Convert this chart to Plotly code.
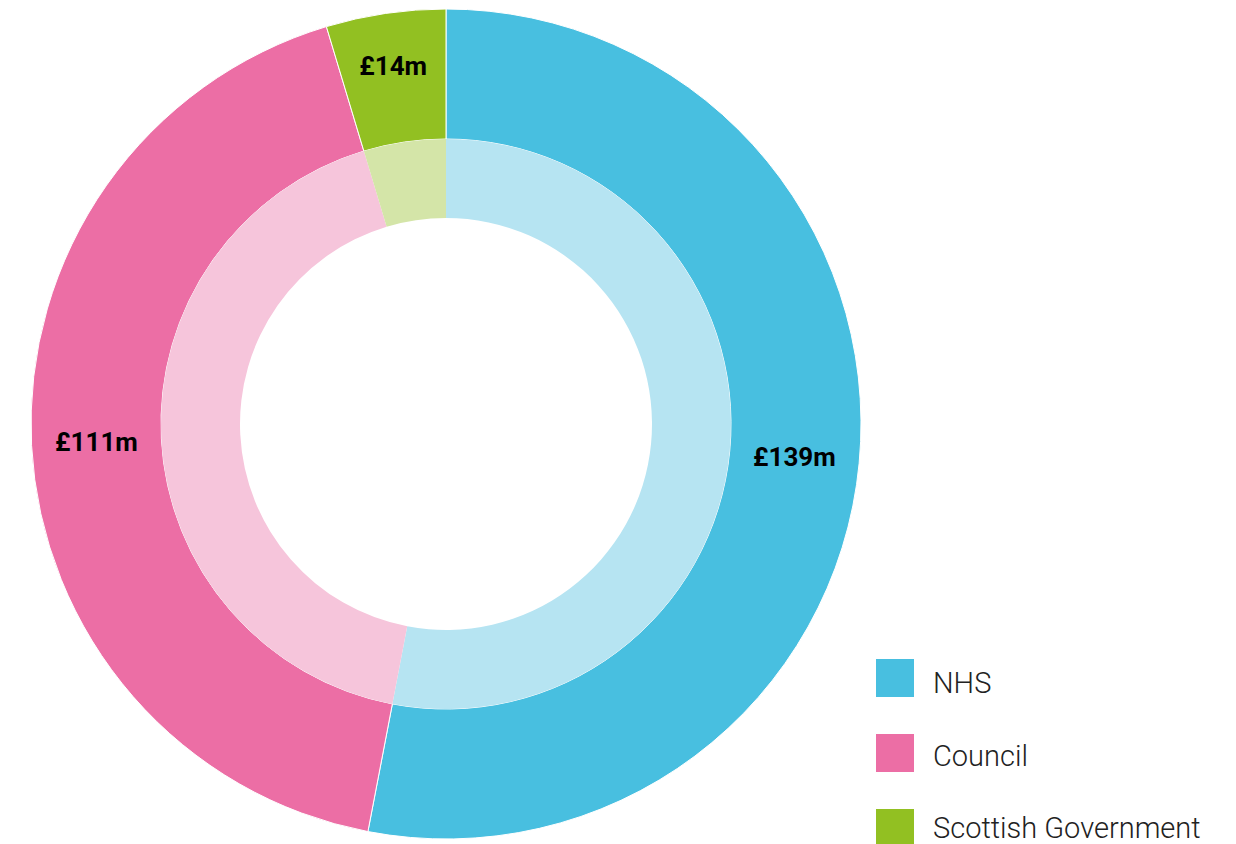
import plotly.graph_objects as go

categories = ["NHS", "Council", "Scottish Government"]
values = [139, 111, 12.2]
value_labels = ["£139m", "£111m", "£14m"]
outer_colors = ["#48BFE0", "#EC6EA5", "#92C022"]
inner_colors = ["#B6E4F2", "#F6C5DB", "#D4E5A8"]

W, H = 1236, 844
OFF = 8  # page body margin
cx, cy = 446 - OFF, 424 - OFF
r_outer, r_mid, r_in = 415, 285, 206


def dom(r):
    return dict(
        x=[(cx - r) / W, (cx + r) / W],
        y=[(H - cy - r) / H, (H - cy + r) / H],
    )


fig = go.Figure()
fig.add_trace(go.Pie(
    labels=categories, values=values, text=value_labels,
    textinfo="text", textposition="inside", insidetextorientation="horizontal",
    textfont=dict(family="Roboto", size=26, color="#000000", weight="bold"),
    marker=dict(colors=outer_colors, line=dict(color="white", width=1)),
    hole=r_mid / r_outer, sort=False, direction="clockwise", rotation=0,
    domain=dom(r_outer), showlegend=False, hoverinfo="label+text",
))
fig.add_trace(go.Pie(
    labels=categories, values=values,
    textinfo="none",
    marker=dict(colors=inner_colors, line=dict(color="white", width=0)),
    hole=r_in / r_mid, sort=False, direction="clockwise", rotation=0,
    domain=dom(r_mid), showlegend=False, hoverinfo="label",
))

# custom legend with large squares
for i, (name, col) in enumerate(zip(categories, outer_colors)):
    top = 659 - OFF + 75 * i
    fig.add_shape(type="rect", xref="paper", yref="paper",
                  x0=(876 - OFF) / W, x1=(914 - OFF) / W,
                  y0=(H - top - 38) / H, y1=(H - top) / H,
                  fillcolor=col, line=dict(width=0))
    ty = 683 - OFF + 72.5 * i
    fig.add_annotation(xref="paper", yref="paper", x=(931 - OFF) / W, y=(H - ty) / H,
                       text=name, showarrow=False, xanchor="left", yanchor="middle",
                       font=dict(family="Roboto", size=29, color="#222222", weight=300))

fig.update_layout(
    width=W, height=H,
    margin=dict(l=0, r=0, t=0, b=0),
    paper_bgcolor="white", plot_bgcolor="white",
    showlegend=False,
)
fig.write_html("out.html")
